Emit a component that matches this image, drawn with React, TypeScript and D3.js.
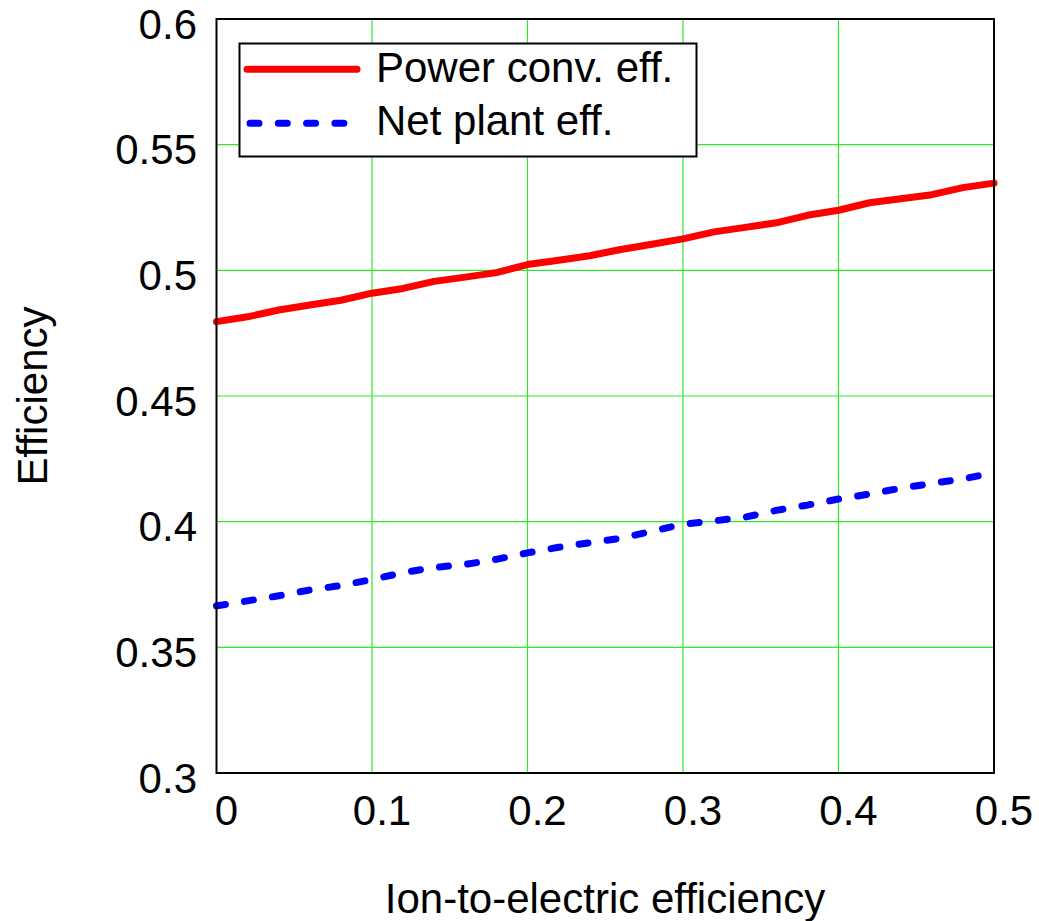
import React from "react";
import * as d3 from "d3";

const xValues = [0, 0.02, 0.04, 0.06, 0.08, 0.1, 0.12, 0.14, 0.16, 0.18, 0.2, 0.22, 0.24, 0.26, 0.28, 0.3, 0.32, 0.34, 0.36, 0.38, 0.4, 0.42, 0.44, 0.46, 0.48, 0.5];
const powerConvEff = [0.4796, 0.4815, 0.4842, 0.4862, 0.4881, 0.4909, 0.4928, 0.4956, 0.4973, 0.4991, 0.5023, 0.504, 0.5058, 0.5083, 0.5104, 0.5125, 0.5153, 0.5171, 0.5189, 0.5219, 0.5239, 0.5269, 0.5285, 0.5301, 0.5329, 0.5347];
const netPlantEff = [0.3665, 0.3685, 0.3705, 0.3728, 0.3746, 0.377, 0.3797, 0.3818, 0.383, 0.385, 0.3876, 0.3898, 0.3916, 0.3934, 0.3962, 0.399, 0.4003, 0.4018, 0.4045, 0.4066, 0.409, 0.411, 0.4133, 0.4152, 0.417, 0.4195];
const xTicks = [0, 0.1, 0.2, 0.3, 0.4, 0.5];
const yTicks = [0.3, 0.35, 0.4, 0.45, 0.5, 0.55, 0.6];
const seriesNames = ["Power conv. eff.", "Net plant eff."];

const W = 1039;
const H = 921;
const L = 216.5, R = 994, T = 19, B = 773;
const FONT = "'Liberation Sans', Arial, Helvetica, sans-serif";
const GRID = "#2eea2e";

export default function App() {
  const x = d3.scaleLinear().domain([0, 0.5]).range([L, R]);
  const y = d3.scaleLinear().domain([0.3, 0.6]).range([B, T]);
  const line = d3.line<number>().x((_, i) => x(xValues[i])).y((d) => y(d));

  return (
    <div style={{ position: "absolute", left: 0, top: 0 }}>
      <svg width={W} height={H} style={{ display: "block", background: "#fff" }} fontFamily={FONT}>
        {/* grid */}
        {xTicks.slice(1, -1).map((t) => (
          <line key={"gx" + t} x1={x(t)} x2={x(t)} y1={T} y2={B} stroke={GRID} strokeWidth={1.2} />
        ))}
        {yTicks.slice(1, -1).map((t) => (
          <line key={"gy" + t} x1={L} x2={R} y1={y(t)} y2={y(t)} stroke={GRID} strokeWidth={1.2} />
        ))}
        {/* series */}
        <path d={line(powerConvEff) || ""} fill="none" stroke="#ff0000" strokeWidth={7} strokeLinejoin="round" strokeLinecap="round" />
        <path d={line(netPlantEff) || ""} fill="none" stroke="#0000ff" strokeWidth={7} strokeDasharray="9 19.3" strokeLinecap="round" strokeLinejoin="round" />
        {/* frame */}
        <rect x={L} y={T} width={R - L} height={B - T} fill="none" stroke="#000" strokeWidth={2} />
        {/* y tick labels */}
        {yTicks.map((t) => (
          <text key={"yl" + t} x={197} y={y(t) + 19.5} textAnchor="end" fontSize={42} fill="#000">
            {String(t)}
          </text>
        ))}
        {/* x tick labels */}
        {xTicks.map((t) => (
          <text key={"xl" + t} x={x(t) + 10} y={825} textAnchor="middle" fontSize={42} fill="#000">
            {String(t)}
          </text>
        ))}
        {/* axis titles */}
        <text x={605} y={913} textAnchor="middle" fontSize={42} fill="#000">Ion-to-electric efficiency</text>
        <text transform={`translate(47,396) rotate(-90)`} textAnchor="middle" fontSize={42} fill="#000">Efficiency</text>
        {/* legend */}
        <rect x={239.5} y={43.5} width={457} height={113} fill="#fff" stroke="#000" strokeWidth={2} />
        <line x1={247} x2={357} y1={69.3} y2={69.3} stroke="#ff0000" strokeWidth={7} strokeLinecap="round" />
        <line x1={250} x2={348} y1={123.3} y2={123.3} stroke="#0000ff" strokeWidth={7} strokeDasharray="9 19.3" strokeLinecap="round" />
        <text x={376} y={82} fontSize={42} fill="#000">{seriesNames[0]}</text>
        <text x={376} y={134.5} fontSize={42} fill="#000">{seriesNames[1]}</text>
      </svg>
    </div>
  );
}
